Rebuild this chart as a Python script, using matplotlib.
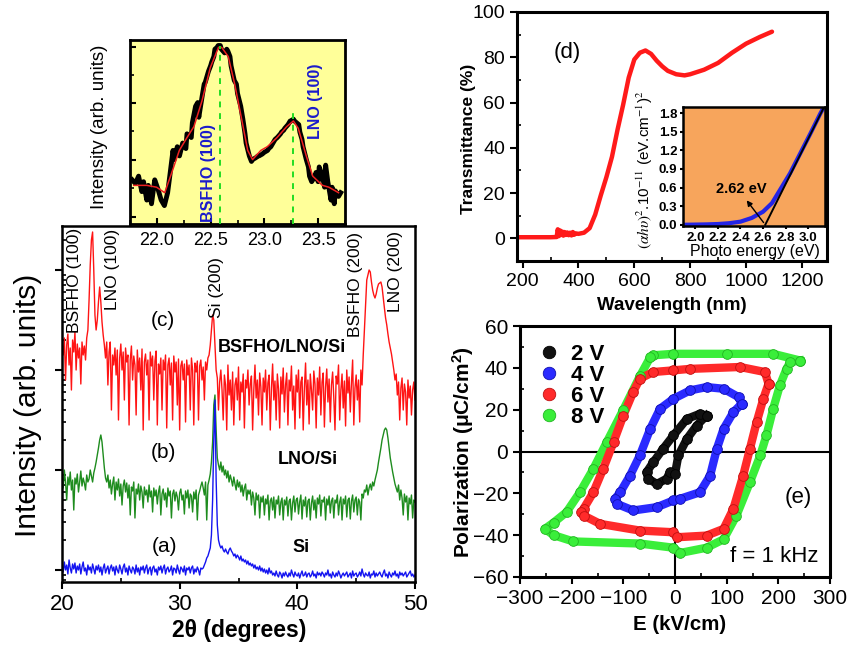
import numpy as np
import matplotlib
matplotlib.use("Agg")
import matplotlib.pyplot as plt
from matplotlib.ticker import MultipleLocator, NullFormatter, FixedLocator, LogLocator
from matplotlib.lines import Line2D

plt.rcParams['font.family'] = ['Liberation Sans', 'DejaVu Sans']
plt.rcParams['mathtext.fontset'] = 'custom'
plt.rcParams['mathtext.rm'] = 'Liberation Sans'
plt.rcParams['mathtext.it'] = 'Liberation Sans:italic'
plt.rcParams['mathtext.bf'] = 'Liberation Sans:bold'

# ---------------- XRD data (log10 intensity x100, 2theta 20..50 step 0.1) -------------
two_theta = np.round(np.arange(20.0, 50.05, 0.1), 1)
red_h = [228, 215, 232, 190, 225, 236, 205, 222, 180, 230,
         218, 238, 200, 226, 212, 222, 186, 228, 215, 224,
         210, 232, 240, 270, 305, 330, 338, 300, 255, 240,
         250, 268, 283, 268, 248, 235, 225, 212, 228, 185,
         218, 228, 160, 215, 205, 222, 195, 220, 150, 212,
         226, 200, 218, 170, 222, 208, 215, 145, 210, 224,
         190, 214, 205, 155, 220, 198, 212, 180, 221, 140,
         208, 216, 195, 210, 150, 218, 204, 214, 170, 209,
         219, 145, 206, 196, 212, 160, 210, 200, 215, 142,
         205, 212, 185, 207, 150, 214, 198, 208, 165, 211,
         140, 204, 209, 190, 206, 148, 210, 195, 205, 160,
         212, 200, 145, 207, 198, 209, 150, 204, 210, 190,
         203, 170, 208, 200, 212, 215, 225, 240, 255, 250,
         225, 200, 192, 160, 188, 200, 180, 150, 195, 185,
         140, 205, 175, 190, 160, 198, 145, 185, 192, 170,
         203, 150, 188, 178, 196, 142, 190, 182, 200, 165,
         186, 194, 140, 180, 205, 172, 190, 155, 197, 183,
         145, 192, 178, 200, 160, 187, 195, 140, 182, 206,
         170, 189, 150, 196, 181, 142, 193, 176, 202, 158,
         185, 197, 145, 190, 179, 204, 160, 184, 141, 195,
         178, 200, 152, 188, 193, 140, 182, 207, 165, 190,
         146, 196, 180, 160, 199, 186, 142, 192, 175, 203,
         155, 188, 197, 143, 183, 201, 168, 191, 148, 185,
         198, 172, 140, 194, 186, 205, 150, 180, 196, 162,
         189, 144, 200, 177, 193, 158, 187, 210, 145, 182,
         195, 170, 190, 148, 200, 185, 215, 240, 265, 290,
         295, 300, 298, 288, 280, 275, 272, 276, 282, 286,
         287, 288, 283, 272, 262, 252, 245, 236, 228, 222,
         216, 208, 200, 190, 196, 175, 188, 150, 182, 192,
         160, 186, 178, 145, 190, 172, 184, 155, 180, 188,
         170]
green_h = [95, 82, 100, 88, 70, 93, 85, 98, 80, 90,
           60, 92, 86, 96, 78, 88, 99, 84, 92, 87,
           80, 95, 88, 91, 100, 94, 88, 97, 102, 108,
           115, 122, 130, 135, 128, 115, 102, 92, 88, 95,
           82, 90, 76, 86, 93, 70, 88, 80, 91, 74,
           86, 65, 84, 90, 78, 87, 72, 85, 55, 83,
           79, 88, 52, 81, 76, 86, 70, 84, 78, 62,
           83, 75, 80, 68, 85, 73, 79, 58, 82, 74,
           80, 66, 78, 84, 55, 76, 81, 70, 77, 63,
           82, 74, 79, 52, 76, 80, 69, 78, 73, 60,
           77, 81, 70, 75, 56, 79, 72, 80, 62, 76,
           74, 58, 78, 71, 80, 50, 75, 79, 84, 88,
           82, 75, 88, 50, 85, 90, 96, 108, 128, 165,
           175, 140, 112, 105, 100, 108, 98, 104, 95, 100,
           92, 99, 88, 95, 90, 84, 93, 86, 80, 90,
           83, 88, 78, 85, 74, 82, 86, 70, 80, 76,
           80, 65, 78, 72, 55, 77, 70, 75, 52, 73,
           68, 74, 55, 71, 66, 75, 50, 69, 72, 60,
           73, 52, 70, 66, 74, 55, 68, 72, 50, 70,
           65, 73, 54, 69, 71, 50, 67, 74, 58, 70,
           72, 56, 68, 75, 51, 70, 64, 73, 53, 69,
           71, 50, 67, 74, 60, 70, 52, 72, 66, 75,
           54, 70, 68, 73, 50, 71, 65, 74, 57, 69,
           72, 52, 70, 67, 75, 55, 68, 73, 50, 71,
           66, 74, 53, 70, 72, 51, 69, 75, 58, 70,
           73, 55, 71, 68, 50, 76, 72, 80, 78, 85,
           75, 82, 86, 80, 88, 84, 90, 95, 100, 108,
           115, 122, 130, 135, 140, 142, 140, 132, 122, 112,
           105, 98, 92, 86, 82, 78, 85, 70, 80, 72,
           55, 76, 68, 74, 50, 72, 66, 75, 52, 70,
           68]
blue_h = [4, -2, 8, 0, 5, -4, 10, 2, -3, 6,
          1, 7, -3, 4, 0, 6, -4, 3, 8, -1,
          2, -5, 5, 0, 3, -3, 6, 1, -4, 4,
          0, 5, -2, 3, -5, 2, 6, -3, 1, 4,
          -4, 2, 5, -1, 3, -5, 4, 0, -3, 5,
          1, -4, 3, 6, -2, 2, -5, 4, 0, -3,
          3, 1, -4, 5, -2, 2, -5, 3, 0, 4,
          -3, 2, 5, -4, 1, 3, -5, 2, 4, -2,
          1, -5, 3, 0, 4, -3, 2, 5, -4, 1,
          3, -2, 0, 4, -5, 2, 1, -3, 5, 0,
          -4, 3, 1, -2, 4, -5, 2, 0, 3, -3,
          2, 4, -4, 1, -2, 3, 0, -5, 2, 1,
          2, 5, 8, 12, 14, 18, 22, 35, 70, 130,
          170, 90, 45, 30, 25, 22, 24, 20, 18, 21,
          18, 16, 20, 22, 19, 17, 14, 16, 12, 15,
          13, 10, 14, 9, 11, 8, 10, 6, 9, 5,
          7, 4, 6, 2, 5, 1, 3, 0, 4, -1,
          2, -2, 1, -3, 0, -4, 2, -3, -1, -5,
          -3, -6, -1, -5, -7, -2, -4, -8, -3, -6,
          -2, -5, -7, -3, -6, 0, -4, -7, -2, -5,
          -6, -3, -8, -4, -1, -6, -5, -2, -7, -4,
          -3, -7, -5, -1, -6, -4, -8, -2, -5, -3,
          -6, -2, -4, -7, -3, -5, 0, -6, -4, -8,
          -2, -5, -7, -3, -6, -1, -4, -8, -5, -3,
          -6, -4, -2, -7, -5, -3, -8, -1, -6, -4,
          -3, -7, -5, -2, -6, 1, -4, -7, -3, -5,
          -6, -2, -8, -4, -5, -1, -7, -3, -6, -4,
          -2, -5, -7, -3, 0, -6, -4, -8, -2, -5,
          -7, -3, -5, -1, -6, -4, -8, -2, -5, -3,
          -6, -4, -2, -7, -5, -3, -1, -6, -4, -7,
          -5]

# ---------------- XRD inset (zoom 21.75-23.75) -------------
ins_x = [21.77, 21.80, 21.83, 21.86, 21.876, 21.906, 21.92, 21.95, 21.98, 22.01,
         22.04, 22.07, 22.10, 22.12, 22.15, 22.16, 22.19, 22.21, 22.24, 22.27,
         22.28, 22.32, 22.33, 22.36, 22.38, 22.39, 22.42, 22.44, 22.45, 22.48,
         22.50, 22.51, 22.53, 22.54, 22.56, 22.57, 22.59, 22.60, 22.63, 22.65,
         22.66, 22.68, 22.69, 22.72, 22.74, 22.75, 22.78, 22.80, 22.82, 22.83,
         22.86, 22.88, 22.89, 22.92, 22.94, 22.95, 22.98, 23.00, 23.03, 23.04,
         23.06, 23.09, 23.10, 23.12, 23.15, 23.16, 23.18, 23.19, 23.22, 23.24,
         23.25, 23.27, 23.28, 23.32, 23.33, 23.35, 23.36, 23.39, 23.41, 23.42,
         23.44, 23.47, 23.48, 23.50, 23.51, 23.54, 23.56, 23.57, 23.59, 23.62,
         23.63, 23.65, 23.66, 23.69, 23.71]
ins_y = [24, 22, 26, 17.6, 23, 13, 21, 11, 24, 19,
         13, 10, 17, 26, 40, 35, 42, 37, 44, 41,
         49, 47, 55, 64, 66, 58, 69, 76, 77, 83,
         86, 88, 91, 95, 96, 97, 97, 95, 93, 95,
         94, 91, 86, 78, 76, 71, 64, 57, 49, 44,
         37, 34, 35, 36, 37, 37, 38, 39, 40, 41,
         42, 45, 46, 47, 49, 50, 51, 52, 54, 56,
         56, 57, 56, 54, 50, 46, 42, 35, 31, 26,
         23, 26, 28, 23, 31, 26, 20, 32, 23, 13,
         20, 11, 18, 15, 17]
fit_x = [21.785, 21.906, 21.997, 22.073, 22.133, 22.209, 22.27, 22.345, 22.42, 22.497,
         22.573, 22.603, 22.664, 22.724, 22.785, 22.845, 22.89, 22.967, 23.027, 23.118,
         23.209, 23.27, 23.315, 23.39, 23.45, 23.54, 23.60, 23.69]
fit_y = [21, 21, 20, 17, 27, 40, 46, 53, 67, 85,
         96, 96, 91, 76, 58, 40, 35, 40, 42, 47,
         53, 56, 52, 37, 26, 21, 20, 17]
peak_bsfho = 22.59
peak_lno = 23.27
ins_ticks = [22.0, 22.5, 23.0, 23.5]

# ---------------- Transmittance -------------
wl = [182, 200, 250, 300, 322, 326, 330, 334, 338, 342, 346, 350,
      355, 360, 365, 370, 375, 380, 385, 390,
      400, 420, 440, 460, 480, 500, 520, 540, 560, 580, 600,
      620, 640, 660, 680, 700, 720, 750, 780, 800,
      850, 900, 950, 1000, 1050, 1093]
trans = [0.5, 0.5, 0.5, 0.5, 0.6, 4.0, 1.0, 3.5, 1.5, 3.0, 1.2, 2.8,
         1.5, 2.6, 1.4, 2.5, 1.3, 2.8, 1.6, 2.2,
         2.0, 2.5, 4.5, 10.5, 19, 27, 36, 48, 59, 71, 79,
         82, 83, 81.5, 78.5, 76, 74, 72.5, 72, 72.5,
         74.5, 77.5, 82, 86, 89, 91.3]
tauc_E = [1.89, 2.0, 2.1, 2.2, 2.3, 2.4, 2.5, 2.6, 2.68, 2.75, 2.84, 2.93, 3.02, 3.11, 3.15]
tauc_Y = [0.0, 0.003, 0.006, 0.012, 0.025, 0.05, 0.11, 0.21, 0.35, 0.56, 0.83, 1.15, 1.47, 1.80, 1.93]
tauc_fit_E = [2.62, 3.15]
tauc_fit_Y = [0.0, 1.93]
band_gap = 2.62

# ---------------- P-E loops -------------
pe_labels = ['2 V', '4 V', '6 V', '8 V']
e2_E = [61, 48, 23, -3, -23, -42, -55, -52, -35, -16, -10, 0, 6.5, 23, 42, 61]
e2_P = [17.2, 18, 15.6, 7.7, 1.3, -5.1, -9.9, -13, -15.5, -13, -9.9, -10.7, -1.9, 6, 12.4, 17.2]
e4_E = [129, 123, 94, 61, 29, -3, -29, -48, -68, -87, -106, -116, -113, -81, -35, -3, 10, 48, 68, 81, 94, 113, 129]
e4_P = [22.8, 26, 30, 30.8, 29.2, 25.2, 20.4, 10.8, -1.9, -11.5, -19.5, -22.6, -25, -28.2, -26.6, -23.4, -22.6, -19.5, -11.5, 1.3, 10.8, 18.8, 22.8]
e6_E = [181, 174, 126, 29, -3, -42, -68, -81, -100, -119, -139, -158, -177, -181, -177, -145, -68, -3, 3, 61, 94, 113, 132, 145, 158, 171, 181]
e6_P = [32.4, 38, 40.4, 39.5, 38.8, 38, 34.8, 28.4, 17.2, 4.5, -8.3, -19.5, -27.4, -29, -30.6, -34.6, -37.8, -38.6, -41, -40.2, -37, -27.4, -11.5, 1.3, 14, 25.2, 32.4]
e8_E = [242, 190, 100, -3, -42, -48, -68, -100, -132, -158, -184, -210, -235, -252, -235, -197, -68, -3, 10, 61, 94, 119, 145, 165, 177, 190, 203, 216, 223, 242]
e8_P = [43.5, 46.7, 46.7, 46.7, 46, 45, 36, 20, 4.5, -8.3, -19.5, -29, -34, -37, -40, -43, -44, -46, -48.5, -46, -42, -30.6, -14.7, -1.9, 7.7, 20.4, 31.6, 39.6, 42.7, 43.5]

# ---------------- figure -------------
W, H = 851, 648
fig = plt.figure(figsize=(W / 100, H / 100), dpi=100)


def rect(l, t, r, b):
    return [l / W, 1 - b / H, (r - l) / W, (b - t) / H]


def ftext(px, py, s, **kw):
    return fig.text(px / W, 1 - py / H, s, ha='center', va='center', **kw)


def style(ax, lw=1.8, size=14, bottom_left_only=True):
    for sp in ax.spines.values():
        sp.set_linewidth(lw)
    ax.tick_params(which='major', direction='out', length=5, width=1.5, labelsize=size)
    ax.tick_params(which='minor', direction='in', length=3, width=1.2)
    if bottom_left_only:
        ax.tick_params(which='both', top=False, right=False)


# ---- main XRD ----
ax1 = fig.add_axes(rect(62, 226, 415, 582))
tt = two_theta
ax1.plot(tt, 10 ** (np.array(red_h) / 100.0), color='#ff1414', lw=1.0)
ax1.plot(tt, 10 ** (np.array(green_h) / 100.0), color='#1e8c1e', lw=1.0)
ax1.plot(tt, 10 ** (np.array(blue_h) / 100.0), color='#1414f0', lw=1.0)
ax1.set_yscale('log')
ax1.set_xlim(20, 50)
ax1.set_ylim(10 ** -0.12, 10 ** 3.44)
ax1.xaxis.set_major_locator(MultipleLocator(10))
ax1.xaxis.set_minor_locator(MultipleLocator(5))
ax1.yaxis.set_major_locator(LogLocator(base=10))
ax1.yaxis.set_minor_locator(LogLocator(base=10, subs=np.arange(2, 10)))
ax1.yaxis.set_major_formatter(NullFormatter())
ax1.yaxis.set_minor_formatter(NullFormatter())
style(ax1, size=16)


def H_(h):
    return 10 ** (h / 100.0)


rot_kw = dict(rotation=90, ha='center', va='bottom', fontsize=12.5)
ax1.text(21.1, H_(237), 'BSFHO (100)', **rot_kw)
ax1.text(24.33, H_(260), 'LNO (100)', **rot_kw)
ax1.text(33.17, H_(252), 'Si (200)', **rot_kw)
ax1.text(44.98, H_(233), 'BSFHO (200)', **rot_kw)
ax1.text(48.38, H_(258), 'LNO (200)', **rot_kw)
ax1.text(28.54, H_(250), '(c)', ha='center', va='center', fontsize=15)
ax1.text(28.6, H_(118), '(b)', ha='center', va='center', fontsize=15)
ax1.text(28.7, H_(24), '(a)', ha='center', va='center', fontsize=15)
ax1.text(38.65, H_(222), 'BSFHO/LNO/Si', ha='center', va='center', fontsize=13, fontweight='bold')
ax1.text(40.9, H_(110), 'LNO/Si', ha='center', va='center', fontsize=13, fontweight='bold')
ax1.text(40.3, H_(23), 'Si', ha='center', va='center', fontsize=13, fontweight='bold')
ftext(239, 630, '2θ (degrees)', fontsize=16.5, fontweight='bold')
ftext(28, 405, 'Intensity (arb. units)', fontsize=21.5, rotation=90)

# ---- XRD inset ----
ax2 = fig.add_axes(rect(130, 40, 345, 224))
ax2.set_facecolor('#ffff99')
ax2.plot(ins_x, ins_y, color='black', lw=3.5, zorder=2)
ax2.plot(fit_x, fit_y, color='#ee2020', lw=1.1, zorder=3)
ax2.plot([peak_bsfho, peak_bsfho], [0, 97], ls=(0, (3, 3)), color='#22dd22', lw=1.4, zorder=4)
ax2.plot([peak_lno, peak_lno], [0, 62], ls=(0, (3, 3)), color='#22dd22', lw=1.4, zorder=4)
ax2.set_xlim(21.75, 23.75)
ax2.set_ylim(0, 100)
ax2.xaxis.set_major_locator(FixedLocator(ins_ticks))
ax2.xaxis.set_minor_locator(MultipleLocator(0.25))
ax2.xaxis.set_major_formatter(matplotlib.ticker.FormatStrFormatter('%.1f'))
ax2.yaxis.set_major_locator(FixedLocator([4, 35, 66, 96]))
ax2.yaxis.set_minor_locator(FixedLocator([19.5, 50.5, 81]))
ax2.yaxis.set_major_formatter(NullFormatter())
style(ax2, lw=2.0, size=13)
ax2.tick_params(axis='y', which='major', direction='in', length=4)
ax2.tick_params(axis='x', which='major', direction='in', length=4, pad=6)
ax2.text(22.48, 1, 'BSFHO (100)', rotation=90, ha='center', va='bottom', fontsize=11.5,
         fontweight='bold', color='#1a1acc', zorder=5)
ax2.text(23.48, 46, 'LNO (100)', rotation=90, ha='center', va='bottom', fontsize=11.5,
         fontweight='bold', color='#1a1acc', zorder=5)
ftext(99, 127, 'Intensity (arb. units)', fontsize=13.5, rotation=90)

# ---- Transmittance (d) ----
ax3 = fig.add_axes(rect(517, 12, 827, 261))
ax3.plot(wl, trans, color='#ff1a1a', lw=3.2, solid_capstyle='round')
ax3.set_xlim(180, 1290)
ax3.set_ylim(-10, 100)
ax3.xaxis.set_major_locator(MultipleLocator(200))
ax3.xaxis.set_minor_locator(MultipleLocator(100))
ax3.yaxis.set_major_locator(MultipleLocator(20))
ax3.yaxis.set_minor_locator(MultipleLocator(10))
style(ax3, lw=2.2, size=14)
ax3.set_yticks([0, 20, 40, 60, 80, 100])
ax3.text(361, 82, '(d)', ha='center', va='center', fontsize=16)
ftext(469, 139, 'Transmittance (%)', fontsize=12.5, fontweight='bold', rotation=90)
ftext(672, 305, 'Wavelength (nm)', fontsize=13.5, fontweight='bold')

# ---- Tauc inset ----
ax4 = fig.add_axes(rect(683, 107, 825, 226))
ax4.set_facecolor('#f7a55c')
ax4.plot(tauc_E, tauc_Y, color='#2424e6', lw=3.0)
ax4.plot(tauc_fit_E, tauc_fit_Y, color='black', lw=1.4)
ax4.annotate('', xy=(2.44, 0.43), xytext=(band_gap, 0.0),
             arrowprops=dict(arrowstyle='-|>', color='black', lw=1.0, mutation_scale=8))
ax4.text(2.41, 0.57, '2.62 eV', ha='center', va='center', fontsize=10.5, fontweight='bold')
ax4.set_xlim(1.89, 3.15)
ax4.set_ylim(-0.02, 1.9)
ax4.xaxis.set_major_locator(MultipleLocator(0.2))
ax4.yaxis.set_major_locator(MultipleLocator(0.3))
ax4.xaxis.set_major_formatter(matplotlib.ticker.FormatStrFormatter('%.1f'))
ax4.yaxis.set_major_formatter(matplotlib.ticker.FormatStrFormatter('%.1f'))
style(ax4, lw=1.8, size=9.5)
ax4.tick_params(which='major', length=2.5, pad=1.5)
for lab in ax4.get_xticklabels() + ax4.get_yticklabels():
    lab.set_fontweight('bold')
ax4.set_xticks([2.0, 2.2, 2.4, 2.6, 2.8, 3.0])
ftext(755, 252, 'Photo energy (eV)', fontsize=11.5)
ftext(645, 170, r'$(\alpha h\upsilon)^{2}$.10$^{-11}$ (eV.cm$^{-1}$)$^{2}$', fontsize=11,
      rotation=90, math_fontfamily='stix')

# ---- P-E loops (e) ----
ax5 = fig.add_axes(rect(520, 326, 830, 577))
ax5.axhline(0, color='black', lw=1.5, zorder=1)
ax5.axvline(0, color='black', lw=1.5, zorder=1)
loops = [(e8_E, e8_P, '#3aee3a', '#22b522'),
         (e6_E, e6_P, '#ff2a2a', '#c01010'),
         (e4_E, e4_P, '#2a2aff', '#1010b0'),
         (e2_E, e2_P, '#111111', '#000000')]
for E, P, c, ec in loops:
    ax5.plot(E, P, '-', color=c, lw=6, zorder=2, solid_joinstyle='round')
    ax5.plot(E, P, 'o', ms=7, mfc=c, mec=ec, mew=0.6, zorder=3)
ax5.set_xlim(-300, 300)
ax5.set_ylim(-60, 60)
ax5.xaxis.set_major_locator(MultipleLocator(100))
ax5.xaxis.set_minor_locator(MultipleLocator(50))
ax5.yaxis.set_major_locator(MultipleLocator(20))
ax5.yaxis.set_minor_locator(MultipleLocator(10))
style(ax5, lw=2.2, size=15)
handles = [Line2D([], [], ls='none', marker='o', ms=9, mfc=c, mec=ec, mew=0.6)
           for c, ec in [('#111111', '#000000'), ('#2a2aff', '#1010b0'),
                         ('#ff2a2a', '#c01010'), ('#3aee3a', '#22b522')]]
leg = ax5.legend(handles, pe_labels, loc='upper left', frameon=False,
                 prop={'weight': 'bold', 'size': 16}, labelspacing=0.0, handlelength=1.0,
                 handletextpad=0.5, borderaxespad=0.3, borderpad=0.5)
ax5.text(238, -22, '(e)', ha='center', va='center', fontsize=16)
ax5.text(277, -50, 'f = 1 kHz', ha='right', va='center', fontsize=16)
ftext(463, 452, 'Polarization (μC/cm$^\\mathbf{2}$)', fontsize=15, fontweight='bold', rotation=90)
ftext(680, 625, 'E (kV/cm)', fontsize=14.8, fontweight='bold')

fig.savefig('out.png', dpi=100)
